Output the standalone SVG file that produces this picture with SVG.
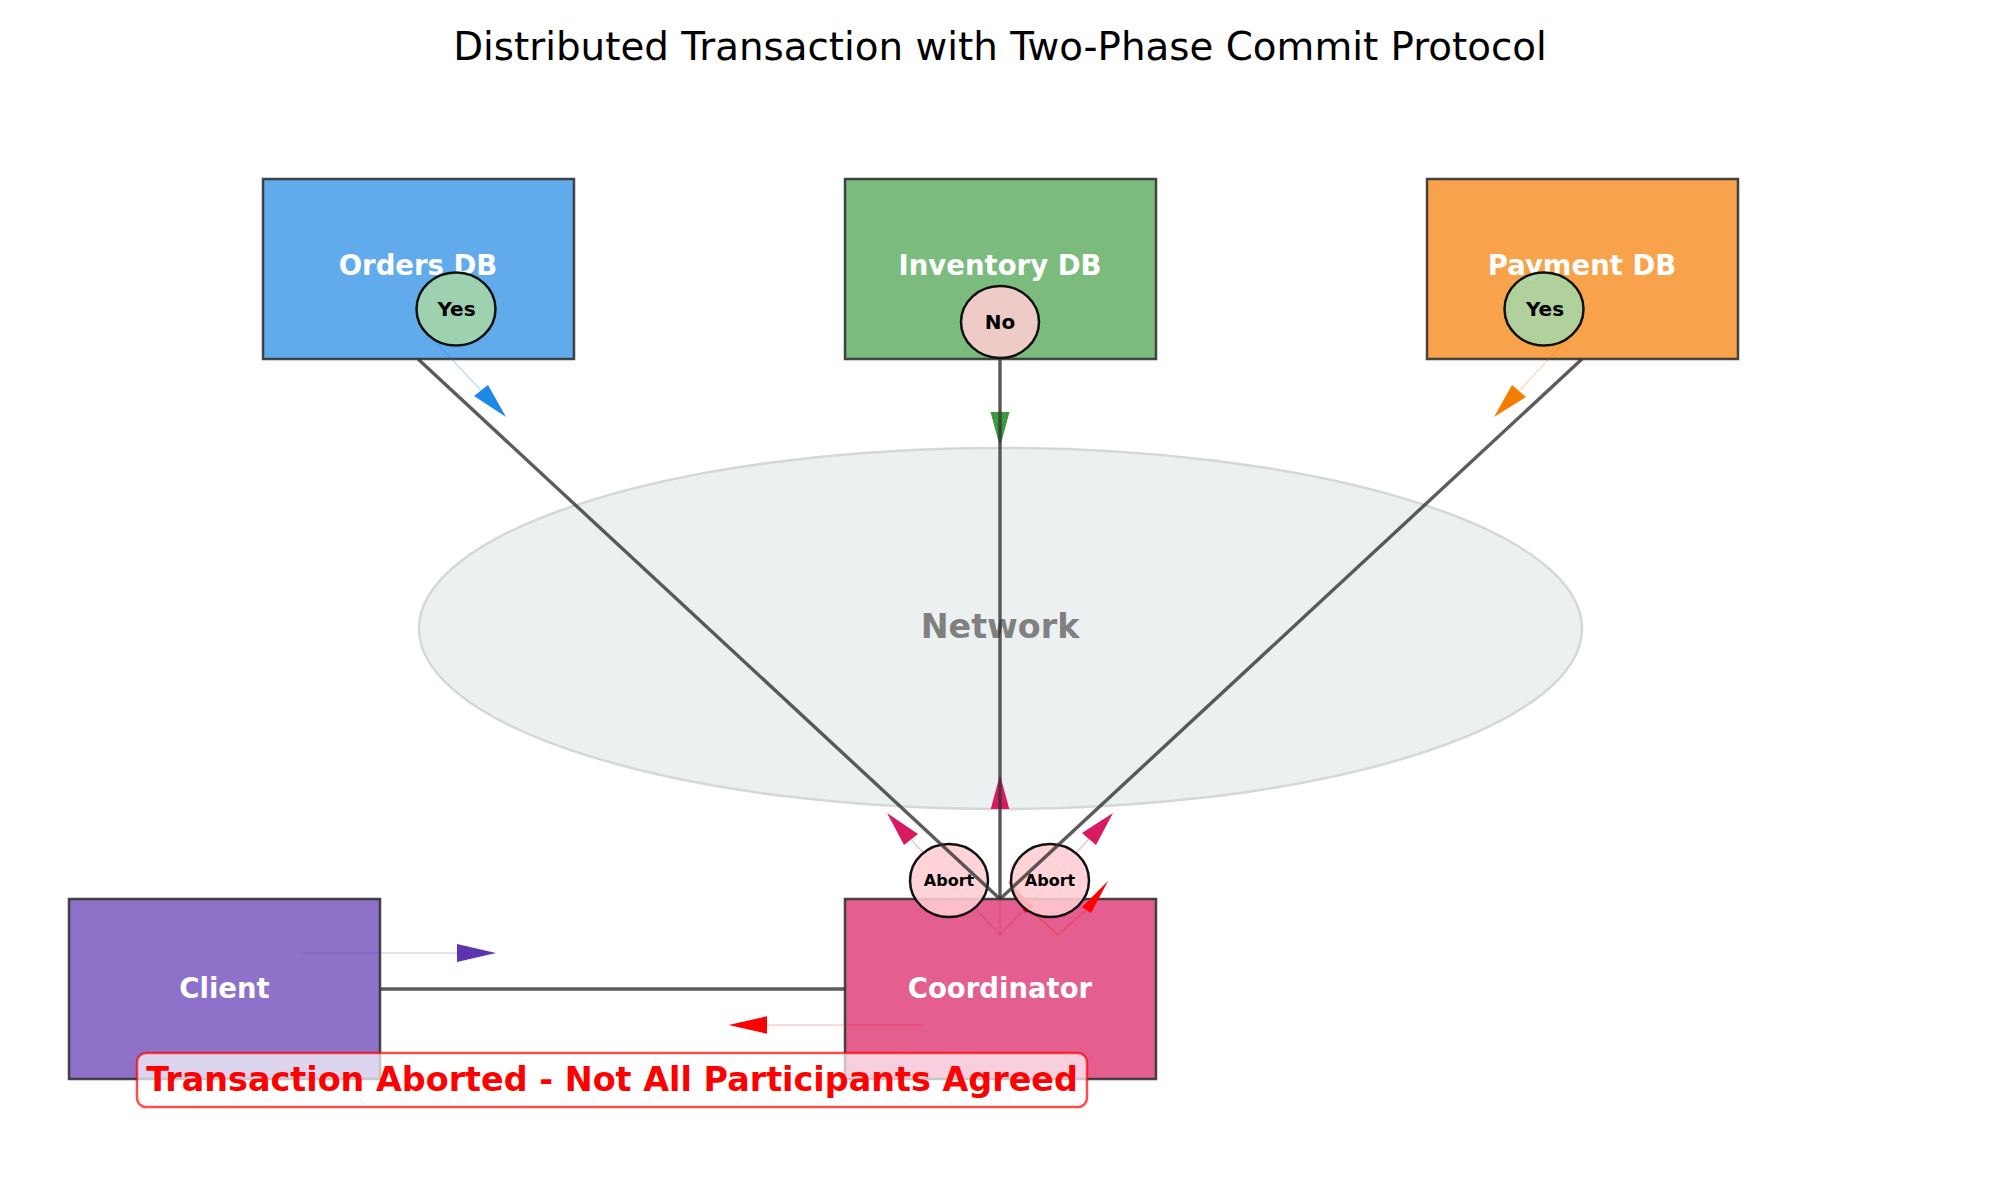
<svg xmlns="http://www.w3.org/2000/svg" width="2000" height="1200" viewBox="0 0 2000 1200">
<style>
text{font-family:"DejaVu Sans","Liberation Sans",sans-serif}
.title{font-size:38.8px;fill:#000}
.box{stroke:#333;stroke-opacity:0.9;stroke-width:2.5}
.lbl{font-size:27.5px;font-weight:bold;fill:#fff;text-anchor:middle}
.vote{stroke:#111;stroke-width:2.5;fill-opacity:0.88}
.vt{font-size:20px;font-weight:bold;fill:#000;text-anchor:middle}
.at{font-size:16px;font-weight:bold;fill:#000;text-anchor:middle}
.link{stroke:#333;stroke-opacity:0.8;stroke-width:3.4;fill:none}
.trail{stroke-width:1.2;stroke-opacity:0.3;fill:none}
</style>
<rect width="2000" height="1200" fill="#fff"/>
<text class="title" x="1000" y="60" text-anchor="middle">Distributed Transaction with Two-Phase Commit Protocol</text>

<g id="network">
<ellipse cx="1000.5" cy="628.5" rx="581.5" ry="180.5" fill="#ecf0f1" stroke="#d5d8d9" stroke-width="2.5"/>
<text x="1000" y="638" text-anchor="middle" font-size="33.3" font-weight="bold" fill="#808080">Network</text>
</g>

<g id="orders-db">
<rect class="box" x="263" y="179" width="311" height="180" fill="#1e88e5" fill-opacity="0.7"/>
<text class="lbl" x="418" y="275">Orders DB</text>
</g>
<g id="inventory-db">
<rect class="box" x="845" y="179" width="311" height="180" fill="#43a047" fill-opacity="0.7"/>
<text class="lbl" x="1000" y="275">Inventory DB</text>
</g>
<g id="payment-db">
<rect class="box" x="1427" y="179" width="311" height="180" fill="#f57c00" fill-opacity="0.7"/>
<text class="lbl" x="1582" y="275">Payment DB</text>
</g>
<g id="client">
<rect class="box" x="69" y="899" width="311" height="180" fill="#5e35b1" fill-opacity="0.7"/>
<text class="lbl" x="224.5" y="998">Client</text>
</g>
<g id="coordinator">
<rect class="box" x="845" y="899" width="311" height="180" fill="#d81b60" fill-opacity="0.7"/>
<text class="lbl" x="1000" y="998">Coordinator</text>
</g>

<g id="messages">
<line class="trail" stroke="#1e88e5" x1="418" y1="323" x2="481" y2="390.5"/>
<polygon fill="#1e88e5" points="506,417 474,396 488,385"/>
<line class="trail" stroke="#43a047" x1="1000" y1="323" x2="1000" y2="412"/>
<polygon fill="#3d9940" points="1000,447 990.5,412 1009.5,412"/>
<line class="trail" stroke="#f57c00" x1="1582" y1="323" x2="1519" y2="391"/>
<polygon fill="#f57c00" points="1494,417 1512,385 1526,397"/>
<line class="trail" stroke="#d81b60" x1="1000" y1="935" x2="911" y2="839.5"/>
<polygon fill="#d81b60" points="887,813 904,845 918,834"/>
<line class="trail" stroke="#d81b60" x1="1000" y1="935" x2="1000" y2="809"/>
<polygon fill="#d81b60" points="1000,775 990.7,809 1009.3,809"/>
<line class="trail" stroke="#d81b60" x1="1000" y1="935" x2="1089" y2="839"/>
<polygon fill="#d81b60" points="1113,813 1082,833 1096,845"/>
<line class="trail" stroke="#ff0000" x1="1058" y1="935" x2="1086" y2="910"/>
<polygon fill="#ff0000" points="1108,881 1082,907 1091,913"/>
<line class="trail" stroke="#ff0000" x1="1058" y1="935" x2="1030" y2="910"/>
<polygon fill="#ff0000" points="1008,881 1034,907 1025,913"/>
<line class="trail" stroke="#5e35b1" x1="302" y1="953" x2="457" y2="953"/>
<polygon fill="#5e35b1" points="496,953 457,944 457,962"/>
<line class="trail" stroke="#ff0000" x1="922" y1="1025" x2="767" y2="1025"/>
<polygon fill="#ff0000" points="728.6,1025 767,1016.2 767,1033.8"/>
</g>

<g id="vote-orders">
<ellipse class="vote" cx="456" cy="309" rx="39.5" ry="36.5" fill="#a5d6a7"/>
<text class="vt" x="456.5" y="315.5">Yes</text>
</g>
<g id="vote-inventory">
<ellipse class="vote" cx="1000" cy="322" rx="39" ry="36" fill="#ffcdd2"/>
<text class="vt" x="1000" y="328.5">No</text>
</g>
<g id="vote-payment">
<ellipse class="vote" cx="1544" cy="309" rx="39.5" ry="36.5" fill="#a5d6a7"/>
<text class="vt" x="1545" y="315.5">Yes</text>
</g>
<g id="abort-1">
<ellipse class="vote" cx="949" cy="880.5" rx="39" ry="36.5" fill="#ffcdd2"/>
<text class="at" x="949" y="886">Abort</text>
</g>
<g id="abort-2">
<ellipse class="vote" cx="1050" cy="880.5" rx="39" ry="36.5" fill="#ffcdd2"/>
<text class="at" x="1050" y="886">Abort</text>
</g>

<g id="connectors">
<line class="link" x1="418" y1="359" x2="1000" y2="899"/>
<line class="link" x1="1000" y1="359" x2="1000" y2="899"/>
<line class="link" x1="1582" y1="359" x2="1000" y2="899"/>
<line class="link" x1="380" y1="989" x2="845" y2="989"/>
</g>

<g id="status">
<rect x="137" y="1053" width="950" height="54" rx="9" fill="#fff" fill-opacity="0.7" stroke="#ff0000" stroke-opacity="0.7" stroke-width="2.5"/>
<text x="612" y="1091" text-anchor="middle" font-size="33.4" font-weight="bold" fill="#ff0000">Transaction Aborted - Not All Participants Agreed</text>
</g>
</svg>
